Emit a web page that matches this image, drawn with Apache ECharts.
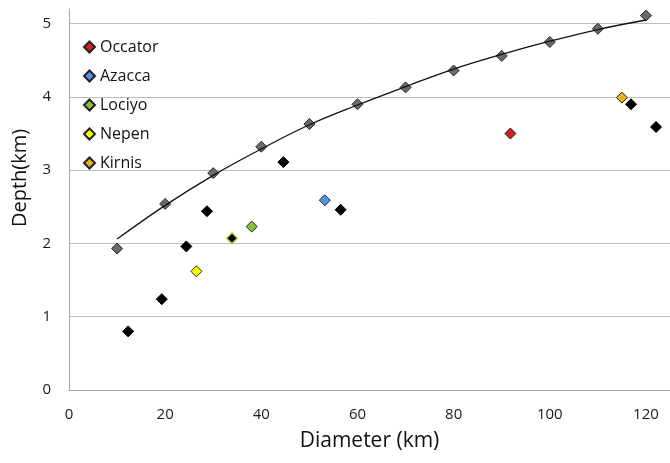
<!DOCTYPE html>
<html>
<head>
<meta charset="utf-8">
<script src="https://cdn.jsdelivr.net/npm/echarts@6/dist/echarts.min.js"></script>
<style>
  html, body { margin: 0; padding: 0; background: #fff; }
  #chart { width: 670px; height: 463px; }
</style>
</head>
<body>
<div id="chart"></div>
<script>
// Reference craters (fitted depth–diameter trend)
const refDiameter = [10, 20, 30, 40, 50, 60, 70, 80, 90, 100, 110, 120];
const refDepth    = [1.93, 2.54, 2.96, 3.32, 3.63, 3.90, 4.13, 4.36, 4.56, 4.75, 4.93, 5.11];

// Trend curve read at the same diameters
const trendDiameter = [10, 20, 30, 40, 50, 60, 70, 80, 90, 100, 110, 120];
const trendDepth    = [2.06, 2.52, 2.93, 3.29, 3.62, 3.89, 4.14, 4.38, 4.58, 4.76, 4.92, 5.05];

// Other measured craters (unnamed)
const otherDiameter = [12.3, 19.3, 24.4, 28.7, 33.9, 44.6, 56.5, 116.9, 122.1];
const otherDepth    = [0.80, 1.24, 1.96, 2.44, 2.07, 3.11, 2.46, 3.90, 3.59];

// Named craters
const namedCraters = ['Occator', 'Azacca', 'Lociyo', 'Nepen', 'Kirnis'];
const namedDiameter = [91.8, 53.2, 38.0, 26.5, 115.0];
const namedDepth    = [3.50, 2.59, 2.23, 1.62, 3.99];
const namedColors   = ['#d21f1f', '#4f94e3', '#86c23a', '#ffff00', '#e6b21f'];

// Axis ticks
const xTicks = [0, 20, 40, 60, 80, 100, 120];
const yTicks = [0, 1, 2, 3, 4, 5];

const FONT = '"Open Sans", "DejaVu Sans", sans-serif';

const pairs = (xs, ys) => xs.map((x, i) => [x, ys[i]]);

const series = [
  {
    name: 'reference',
    type: 'scatter',
    symbol: 'diamond',
    symbolSize: [11, 11],
    data: pairs(refDiameter, refDepth),
    itemStyle: { color: '#6a6a6a', borderColor: '#262626', borderWidth: 1, opacity: 1 },
    z: 3,
    silent: true
  },
  {
    name: 'trend',
    type: 'line',
    smooth: 0.4,
    showSymbol: false,
    symbol: 'none',
    data: pairs(trendDiameter, trendDepth),
    lineStyle: { color: '#111', width: 1.3 },
    z: 4,
    silent: true
  },
  {
    name: 'other',
    type: 'scatter',
    symbol: 'diamond',
    symbolSize: [11, 11],
    data: otherDiameter.map((x, i) => {
      const item = { value: [x, otherDepth[i]] };
      // the point at ~34 km sits on a yellow-green marker
      if (i === 4) item.itemStyle = { borderColor: '#c9d64a', borderWidth: 1.5 };
      return item;
    }),
    itemStyle: { color: '#000', borderColor: '#000', borderWidth: 1, opacity: 1 },
    z: 3,
    silent: true
  }
];

namedCraters.forEach((name, i) => {
  series.push({
    name: name,
    type: 'scatter',
    symbol: 'diamond',
    symbolSize: [11, 11],
    data: [[namedDiameter[i], namedDepth[i]]],
    itemStyle: { color: namedColors[i], borderColor: '#222', borderWidth: 1, opacity: 1 },
    z: 5,
    silent: true
  });
});

const chart = echarts.init(document.getElementById('chart'), null, { renderer: 'canvas' });

chart.setOption({
  animation: false,
  backgroundColor: '#fff',
  grid: { left: 69, top: 9, right: 0, bottom: 73, containLabel: false },
  legend: {
    data: namedCraters,
    orient: 'vertical',
    left: 78,
    top: 32,
    itemWidth: 11,
    itemHeight: 11,
    itemGap: 9,
    icon: 'diamond',
    itemStyle: { opacity: 1 },
    textStyle: { fontFamily: FONT, fontSize: 16, color: '#111', lineHeight: 20 }
  },
  xAxis: {
    type: 'value',
    min: 0,
    max: 125,
    interval: 20,
    name: 'Diameter (km)',
    nameLocation: 'middle',
    nameGap: 41,
    nameTextStyle: { fontFamily: FONT, fontSize: 21, color: '#111' },
    axisLine: { show: true, lineStyle: { color: '#a6a6a6', width: 1 } },
    axisTick: { show: false },
    splitLine: { show: false },
    axisLabel: {
      fontFamily: FONT, fontSize: 15, color: '#1a1a1a', margin: 17,
      showMaxLabel: false,
      formatter: v => (xTicks.indexOf(v) >= 0 ? String(v) : '')
    }
  },
  yAxis: {
    type: 'value',
    min: 0,
    max: 5.2,
    interval: 1,
    axisLine: { show: true, lineStyle: { color: '#a6a6a6', width: 1 } },
    axisTick: { show: false },
    splitLine: { show: true, showMaxLine: false, lineStyle: { color: '#bdbdbd', width: 1 } },
    axisLabel: {
      fontFamily: FONT, fontSize: 15, color: '#1a1a1a', margin: 18,
      showMaxLabel: false,
      formatter: v => (yTicks.indexOf(v) >= 0 ? String(v) : '')
    }
  },
  graphic: [
    {
      type: 'text',
      x: 20,
      y: 178,
      rotation: Math.PI / 2,
      style: {
        text: 'Depth(km)',
        fontFamily: FONT,
        fontSize: 20,
        fill: '#111',
        align: 'center',
        verticalAlign: 'middle'
      }
    }
  ],
  series: series
});
</script>
</body>
</html>
